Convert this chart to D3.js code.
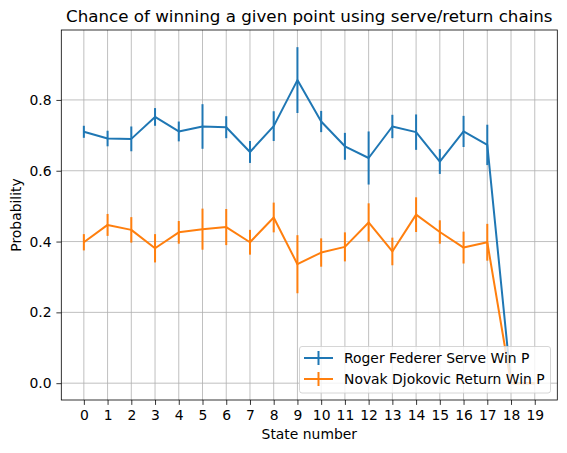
<!DOCTYPE html>
<html>
<head>
<meta charset="utf-8">
<script src="https://cdn.jsdelivr.net/npm/d3@7"></script>
<style>
body { margin: 0; background: #fff; }
text { font-family: "DejaVu Sans", sans-serif; fill: #000; }
</style>
</head>
<body>
<script>
// state numbers on the x axis
var states = d3.range(0, 20);

var federerServe = [0.710, 0.691, 0.690, 0.752, 0.711, 0.725, 0.723, 0.653, 0.726, 0.856,
                    0.739, 0.669, 0.636, 0.725, 0.709, 0.626, 0.711, 0.673, 0.0, 0.0];
var federerErr   = [0.017, 0.022, 0.035, 0.025, 0.028, 0.063, 0.031, 0.031, 0.042, 0.093,
                    0.030, 0.038, 0.075, 0.033, 0.050, 0.035, 0.044, 0.057, 0.0, 0.0];

var djokovicReturn = [0.398, 0.447, 0.433, 0.381, 0.426, 0.435, 0.441, 0.398, 0.468, 0.336,
                      0.369, 0.385, 0.454, 0.372, 0.476, 0.427, 0.383, 0.398, 0.0, 0.0];
var djokovicErr    = [0.023, 0.031, 0.036, 0.040, 0.032, 0.058, 0.051, 0.035, 0.042, 0.082,
                      0.040, 0.041, 0.054, 0.039, 0.049, 0.033, 0.045, 0.052, 0.0, 0.0];

var yTicks = [0.0, 0.2, 0.4, 0.6, 0.8];
var seriesNames = ["Roger Federer Serve Win P", "Novak Djokovic Return Win P"];
var colors = ["#1f77b4", "#ff7f0e"];

var width = 567,
    height = 453;
// plot area (window.top is read-only, so no bare "top")
var pL = 61.3, pR = 557.3, pT = 30, pB = 400;

var svg = d3.select("body").append("svg")
    .attr("width", width)
    .attr("height", height);

var x = d3.scaleLinear().domain([-0.95, 19.95]).range([pL, pR]);
var y = d3.scaleLinear().domain([-0.0475, 0.9975]).range([pB, pT]);

// grid
var grid = svg.append("g");
grid.selectAll("line.vx")
    .data(states)
  .enter().append("line")
    .attr("x1", function(d){ return x(d); })
    .attr("x2", function(d){ return x(d); })
    .attr("y1", pT).attr("y2", pB)
    .attr("stroke", "#b0b0b0").attr("stroke-width", 0.8);
grid.selectAll("line.hy")
    .data(yTicks)
  .enter().append("line")
    .attr("y1", function(d){ return y(d); })
    .attr("y2", function(d){ return y(d); })
    .attr("x1", pL).attr("x2", pR)
    .attr("stroke", "#b0b0b0").attr("stroke-width", 0.8);

// axes (3.5pt ticks and padding)
var xAxis = d3.axisBottom(x).tickValues(states).tickFormat(d3.format("d"))
    .tickSizeInner(4.9).tickSizeOuter(0).tickPadding(4.9);
var yAxis = d3.axisLeft(y).tickValues(yTicks).tickFormat(d3.format(".1f"))
    .tickSizeInner(4.9).tickSizeOuter(0).tickPadding(4.9);

var gx = svg.append("g").attr("transform", "translate(0," + pB + ")").call(xAxis);
var gy = svg.append("g").attr("transform", "translate(" + pL + ",0)").call(yAxis);
[gx, gy].forEach(function(g){
    g.select(".domain").remove();
    g.selectAll(".tick line").attr("stroke", "#000").attr("stroke-width", 0.8);
    g.selectAll(".tick text").attr("font-size", "13.9px").attr("font-family", "DejaVu Sans");
});

// series
var series = [
    {name: seriesNames[0], vals: federerServe, err: federerErr, color: colors[0]},
    {name: seriesNames[1], vals: djokovicReturn, err: djokovicErr, color: colors[1]}
];

var line = d3.line()
    .x(function(d, i){ return x(states[i]); })
    .y(function(d){ return y(d); });

series.forEach(function(s){
    var g = svg.append("g");
    g.append("path")
        .datum(s.vals)
        .attr("d", line)
        .attr("fill", "none")
        .attr("stroke", s.color)
        .attr("stroke-width", 2)
        .attr("stroke-linejoin", "round");
    g.selectAll("line.err")
        .data(s.vals)
      .enter().append("line")
        .attr("x1", function(d, i){ return x(states[i]); })
        .attr("x2", function(d, i){ return x(states[i]); })
        .attr("y1", function(d, i){ return y(d - s.err[i]); })
        .attr("y2", function(d, i){ return y(d + s.err[i]); })
        .attr("stroke", s.color)
        .attr("stroke-width", 2);
});

// frame
svg.append("rect")
    .attr("x", pL).attr("y", pT)
    .attr("width", pR - pL).attr("height", pB - pT)
    .attr("fill", "none").attr("stroke", "#000").attr("stroke-width", 0.8);

// legend
var lg = svg.append("g");
lg.append("rect")
    .attr("x", 299.5).attr("y", 346.5)
    .attr("width", 251).attr("height", 46.5)
    .attr("rx", 2.5)
    .attr("fill", "#fff").attr("fill-opacity", 0.8)
    .attr("stroke", "#cccccc").attr("stroke-width", 0.8);
series.forEach(function(s, i){
    var ly = 358 + i * 21;
    lg.append("line")
        .attr("x1", 304).attr("x2", 333)
        .attr("y1", ly).attr("y2", ly)
        .attr("stroke", s.color).attr("stroke-width", 2);
    lg.append("line")
        .attr("x1", 318.5).attr("x2", 318.5)
        .attr("y1", ly - 7).attr("y2", ly + 7)
        .attr("stroke", s.color).attr("stroke-width", 2);
    lg.append("text")
        .attr("x", 344).attr("y", ly + 5)
        .attr("font-size", "13.9px")
        .text(s.name);
});

// labels
svg.append("text")
    .attr("x", (pL + pR) / 2).attr("y", 22)
    .attr("text-anchor", "middle")
    .attr("font-size", "16.7px")
    .text("Chance of winning a given point using serve/return chains");
svg.append("text")
    .attr("x", (pL + pR) / 2).attr("y", 439)
    .attr("text-anchor", "middle")
    .attr("font-size", "13.9px")
    .text("State number");
svg.append("text")
    .attr("transform", "translate(21," + ((pT + pB) / 2) + ") rotate(-90)")
    .attr("text-anchor", "middle")
    .attr("font-size", "13.9px")
    .text("Probability");
</script>
</body>
</html>
